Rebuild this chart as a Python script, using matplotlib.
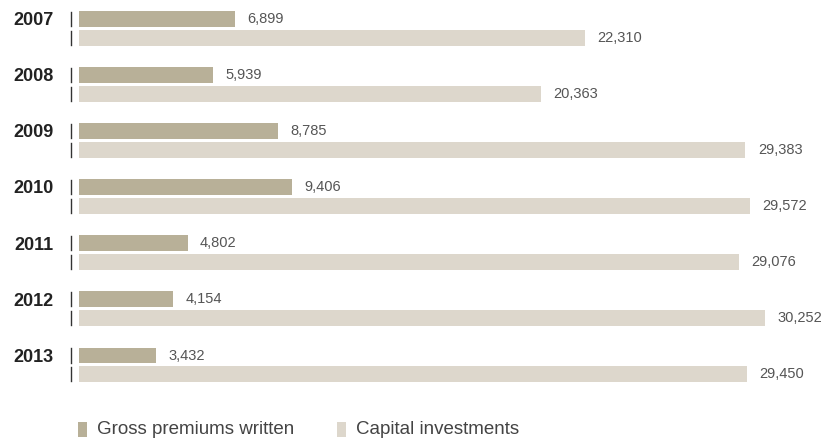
import matplotlib.pyplot as plt
from matplotlib import transforms
from matplotlib.patches import Rectangle
import numpy as np

plt.rcParams['font.family'] = ['Liberation Sans', 'DejaVu Sans']

years = ["2007", "2008", "2009", "2010", "2011", "2012", "2013"]
gross_premiums = [6899, 5939, 8785, 9406, 4802, 4154, 3432]
capital_investments = [22310, 20363, 29383, 29572, 29076, 30252, 29450]

dark = "#b8b098"
light = "#ddd7cc"

W, H = 826, 442
fig = plt.figure(figsize=(W / 100, H / 100), dpi=100)

# axes placed in pixel terms: bars start at x=78.5, rows 56 px apart
left_px, top_px, bottom_px = 78.5, 0, 400
ax = fig.add_axes([left_px / W, 1 - bottom_px / H, (W - left_px) / W, (bottom_px - top_px) / H])
px_per_unit = 0.0227
row_px = 56.08
ax.set_xlim(0, (W - left_px) / px_per_unit)
ytop = -28.5 / row_px
ax.set_ylim(ytop + (bottom_px - top_px) / row_px, ytop)
ax.axis("off")

pos = np.arange(len(years))
off = 0.169
h = 0.285
ax.barh(pos - off, gross_premiums, height=h, color=dark, linewidth=0)
ax.barh(pos + off, capital_investments, height=h, color=light, linewidth=0)

for y, v in zip(pos - off, gross_premiums):
    ax.annotate(f"{v:,}", (v, y), xytext=(9, 0), textcoords="offset points",
                ha="left", va="center", fontsize=10.5, color="#555555")
for y, v in zip(pos + off, capital_investments):
    ax.annotate(f"{v:,}", (v, y), xytext=(9, 0), textcoords="offset points",
                ha="left", va="center", fontsize=10.5, color="#555555")

# little tick marks to the left of each bar
trans = transforms.blended_transform_factory(ax.transAxes, ax.transData)
tick_x = -8 / (W - left_px)
for y in np.concatenate([pos - off, pos + off]):
    ax.plot([tick_x, tick_x], [y - 0.125, y + 0.125], color="#333333", lw=1,
            transform=trans, clip_on=False)

label_x = -25 / (W - left_px)
for y, yr in zip(pos - off, years):
    ax.text(label_x, y + 0.03, yr, transform=trans, ha="right", va="center",
            fontsize=13, fontweight="bold", color="#222222")

# legend drawn by hand along the bottom
def legend_item(x_px, color, label):
    fig.add_artist(Rectangle((x_px / W, 1 - 437 / H), 9 / W, 15 / H,
                             transform=fig.transFigure, color=color, lw=0))
    fig.text((x_px + 19) / W, 1 - 430 / H, label, ha="left", va="center",
             fontsize=13.5, color="#444444")

legend_item(78, dark, "Gross premiums written")
legend_item(337, light, "Capital investments")

fig.savefig("out.png", dpi=100)
